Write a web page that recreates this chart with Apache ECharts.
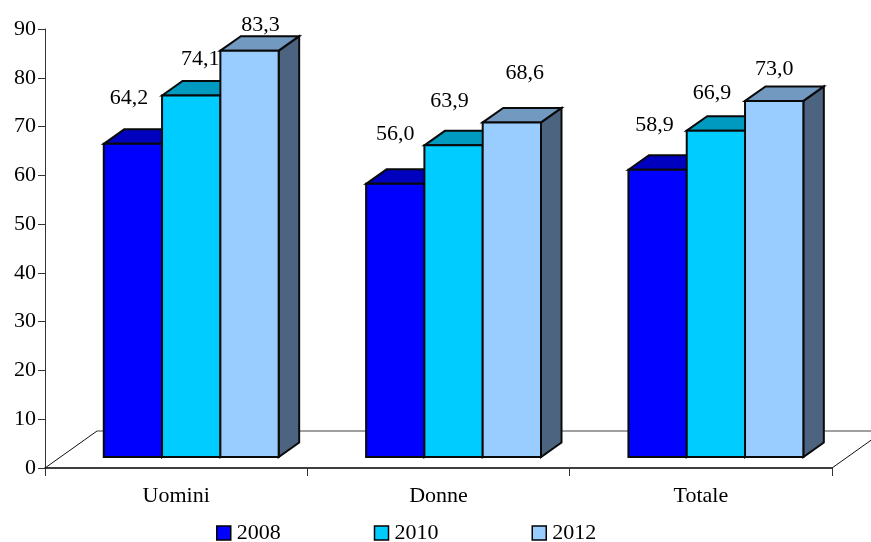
<!DOCTYPE html>
<html>
<head>
<meta charset="utf-8">
<title>Uomini, Donne, Totale</title>
<script src="https://cdn.jsdelivr.net/npm/echarts@6/dist/echarts.min.js"></script>
<style>
html, body { margin: 0; padding: 0; background: #fff; }
#chart { width: 871px; height: 542px; }
</style>
</head>
<body>
<div id="chart"></div>
<script>
const categories = ['Uomini', 'Donne', 'Totale'];
const years = ['2008', '2010', '2012'];
const values2008 = [64.2, 56.0, 58.9];
const values2010 = [74.1, 63.9, 66.9];
const values2012 = [83.3, 68.6, 73.0];

const front = ['#0000ff', '#00ccff', '#99ccff'];
const top3d = ['#0000bf', '#0099bf', '#7299bf'];
const side3d = ['#000080', '#006680', '#4d6480'];

// 3d look, in pixels
const depthX = 20.5, depthY = 14.5;   // bar depth
const floorX = 52, floorY = 37;       // floor depth
const lift = 11;                      // front of the bars above the axis
const barW = 58.3, groupLeft = -72.4; // from the category centre

// the labels in the original are moved by hand: dx, baseline dy from the bar top
const labelNudge = [
  [[-4, -35], [9, -25], [11, -14]],
  [[0, -39], [-4, -33], [13, -38]],
  [[-3, -33], [-4, -26], [0, -21]]
];

function bar3d(s) {
  return function (params, api) {
    const c = api.coord([api.value(0), api.value(1)]);
    const y0 = api.coord([api.value(0), 0])[1] - lift;
    const x = c[0] + groupLeft + s * barW, y = c[1] - lift, w = barW;
    const edge = { stroke: '#0a0a0a', lineWidth: 2, lineJoin: 'miter' };
    const n = labelNudge[api.value(0)][s];
    return {
      type: 'group',
      children: [
        { type: 'polygon', shape: { points: [[x + w, y], [x + w + depthX, y - depthY], [x + w + depthX, y0 - depthY], [x + w, y0]] },
          style: Object.assign({ fill: side3d[s] }, edge) },
        { type: 'polygon', shape: { points: [[x, y], [x + depthX, y - depthY], [x + w + depthX, y - depthY], [x + w, y]] },
          style: Object.assign({ fill: top3d[s] }, edge) },
        { type: 'rect', shape: { x: x, y: y, width: w, height: y0 - y },
          style: Object.assign({ fill: front[s] }, edge) },
        { type: 'text', z2: 10, style: {
            x: x + w / 2 + n[0], y: y + n[1],
            text: api.value(1).toFixed(1).replace('.', ','),
            font: '22px "Liberation Serif"', fill: '#000',
            align: 'center', verticalAlign: 'bottom' } }
      ]
    };
  };
}

function floor(params, api) {
  const cs = params.coordSys;
  const left = cs.x, right = cs.x + cs.width, y = cs.y + cs.height;
  return {
    type: 'group',
    children: [
      { type: 'line', shape: { x1: left + floorX, y1: y - floorY, x2: right + floorX, y2: y - floorY },
        style: { stroke: '#808080', lineWidth: 1.5 } },
      { type: 'line', shape: { x1: left, y1: y, x2: left + floorX, y2: y - floorY },
        style: { stroke: '#111', lineWidth: 1 } },
      { type: 'line', shape: { x1: right, y1: y, x2: right + floorX, y2: y - floorY },
        style: { stroke: '#111', lineWidth: 1 } }
    ]
  };
}

function rows(vals) {
  return vals.map((v, i) => [i, v]);
}

const chart = echarts.init(document.getElementById('chart'));
chart.setOption({
  animation: false,
  textStyle: { fontFamily: 'Liberation Serif' },
  grid: { left: 45, right: 39, top: 29, bottom: 74 },
  legend: {
    data: years,
    icon: 'rect',
    left: 216,
    top: 522,
    padding: 0,
    itemWidth: 14,
    itemHeight: 14,
    itemGap: 93,
    itemStyle: { borderColor: '#000', borderWidth: 1.5 },
    textStyle: { fontFamily: 'Liberation Serif', fontSize: 22, color: '#000', padding: [0, 0, 0, 1] }
  },
  xAxis: {
    type: 'category',
    data: categories,
    axisLine: { lineStyle: { color: '#000', width: 1.5 } },
    axisTick: { show: true, alignWithLabel: false, length: 8, lineStyle: { color: '#333' } },
    axisLabel: { color: '#000', fontSize: 22, fontFamily: 'Liberation Serif', margin: 17 }
  },
  yAxis: {
    type: 'value',
    min: 0,
    max: 90,
    interval: 10,
    splitLine: { show: false },
    axisLine: { show: true, lineStyle: { color: '#333', width: 1 } },
    axisTick: { show: true, length: 7, lineStyle: { color: '#333' } },
    axisLabel: { color: '#000', fontSize: 22, fontFamily: 'Liberation Serif', margin: 9 }
  },
  series: [
    { type: 'custom', name: 'floor', data: [[0, 0]], renderItem: floor, silent: true, z: 1 },
    { type: 'custom', name: years[0], data: rows(values2008), renderItem: bar3d(0), itemStyle: { color: front[0] }, z: 2 },
    { type: 'custom', name: years[1], data: rows(values2010), renderItem: bar3d(1), itemStyle: { color: front[1] }, z: 3 },
    { type: 'custom', name: years[2], data: rows(values2012), renderItem: bar3d(2), itemStyle: { color: front[2] }, z: 4 }
  ]
});
</script>
</body>
</html>
